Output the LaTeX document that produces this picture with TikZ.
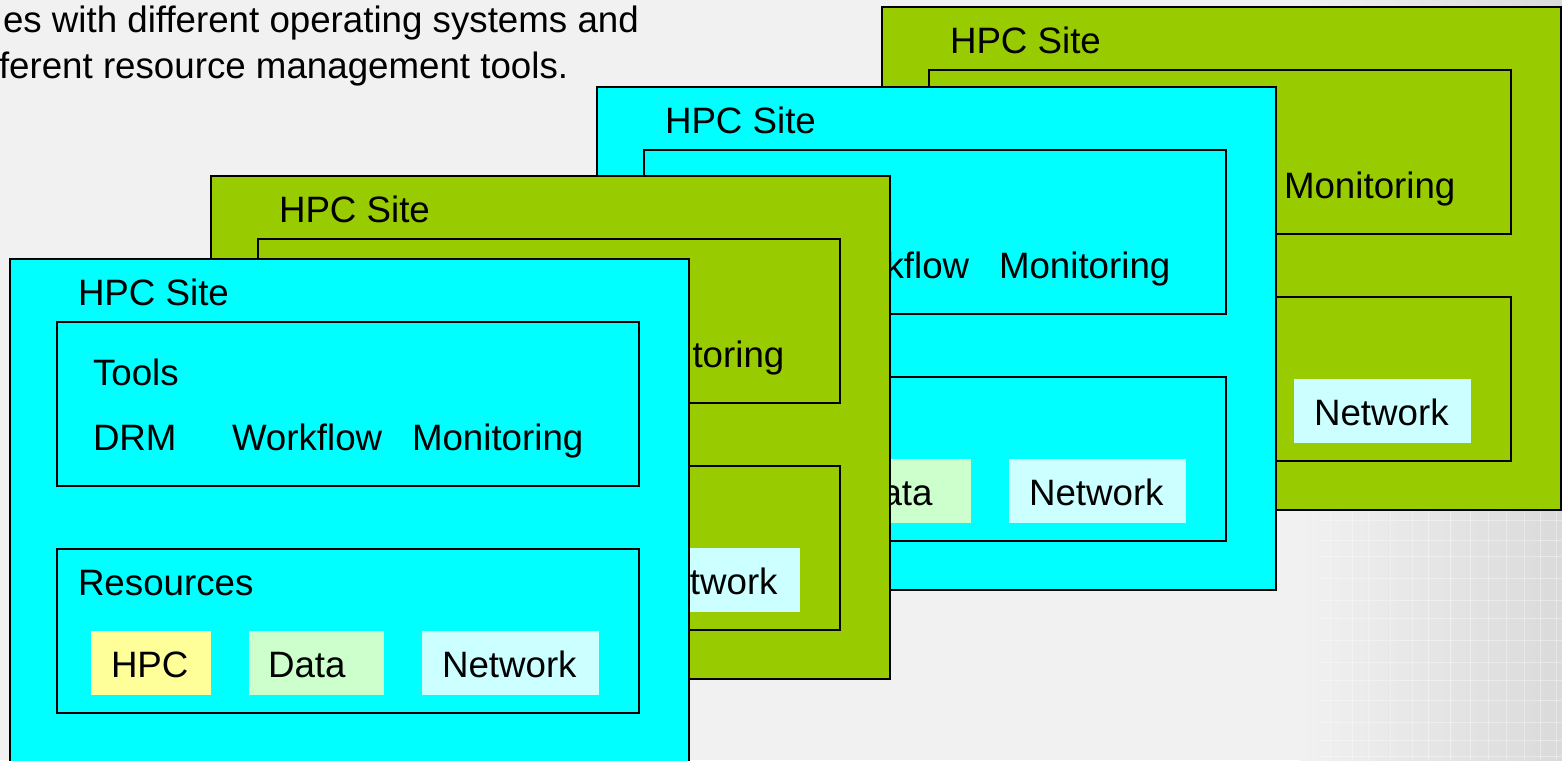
\documentclass[tikz,border=0pt]{standalone}
\usepackage{fontspec}
\setmainfont{Liberation Sans}
\definecolor{bg}{HTML}{F1F1F1}
\definecolor{bgdark}{HTML}{DADADA}
\definecolor{sitecyan}{HTML}{00FFFF}
\definecolor{sitegreen}{HTML}{99CC00}
\definecolor{hpcyellow}{HTML}{FFFF99}
\definecolor{datagreen}{HTML}{CCFFCC}
\definecolor{netcyan}{HTML}{CCFFFF}
\tikzset{
  sitebox/.style={draw=black, line width=1.8pt, anchor=north west, inner sep=0pt, outer sep=0pt},
  innerbox/.style={draw=black, line width=1.5pt, anchor=north west, inner sep=0pt, outer sep=0pt},
  chip/.style={anchor=north west, inner sep=0pt, outer sep=0pt, minimum height=64pt},
  lbl/.style={anchor=base west, inner sep=0pt, outer sep=0pt, font=\fontsize{36.7}{44}\selectfont},
}
\newcommand\hpcsite[4]{%
  \begin{scope}[shift={(#2,#3)}]
    \node[sitebox, fill=#4, minimum width=679pt, minimum height=503pt] (#1-site) at (0,0) {};
    \node[lbl] (#1-title) at (68,46) {HPC Site};
    \node[innerbox, fill=#4, minimum width=582pt, minimum height=164pt] (#1-tools) at (47,63) {};
    \node[lbl] (#1-toolslbl) at (83,126) {Tools};
    \node[lbl] (#1-drm) at (83,191) {DRM};
    \node[lbl] (#1-wf) at (222,191) {Workflow};
    \node[lbl] (#1-mon) at (402,191) {Monitoring};
    \node[innerbox, fill=#4, minimum width=582pt, minimum height=164pt] (#1-res) at (47,290) {};
    \node[lbl] (#1-reslbl) at (68,336) {Resources};
    \node[chip, fill=hpcyellow, minimum width=120pt] (#1-hpcbox) at (81,372) {};
    \node[lbl] (#1-hpc) at (101,418) {HPC};
    \node[chip, fill=datagreen, minimum width=135pt] (#1-databox) at (239,372) {};
    \node[lbl] (#1-data) at (258,418) {Data};
    \node[chip, fill=netcyan, minimum width=177pt] (#1-netbox) at (412,372) {};
    \node[lbl] (#1-net) at (432,418) {Network};
  \end{scope}}
\begin{document}
\begin{tikzpicture}[x=1pt, y=-1pt]
  \clip (0,0) rectangle (1562,760);
  \fill[bg] (0,0) rectangle (1562,760);
  \shade[left color=bg, right color=bgdark] (1300,0) rectangle (1562,760);
  \foreach \gx in {1330,1352,1368,1390,1412,1428,1450,1470,1488,1506,1524,1540,1556}
    \draw[white, opacity=0.35, line width=1pt] (\gx,500) -- (\gx,760);
  \foreach \gy in {520,540,556,578,600,618,640,662,680,700,722,740,756}
    \draw[white, opacity=0.35, line width=1pt] (1320,\gy) -- (1562,\gy);
  \node[lbl] (intro1) at (3,33) {es with different operating systems and};
  \node[lbl] (intro2) at (-1,78) {ferent resource management tools.};
  \hpcsite{s4}{882}{7}{sitegreen}
  \hpcsite{s3}{597}{87}{sitecyan}
  \hpcsite{s2}{211}{176}{sitegreen}
  \hpcsite{s1}{10}{259}{sitecyan}
\end{tikzpicture}
\end{document}
